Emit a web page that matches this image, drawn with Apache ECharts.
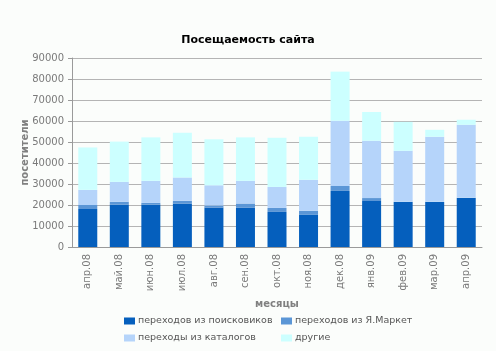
<!DOCTYPE html>
<html>
<head>
<meta charset="utf-8">
<script src="https://cdn.jsdelivr.net/npm/echarts@6/dist/echarts.min.js"></script>
<style>
  html, body { margin: 0; padding: 0; background: #fbfdfb; }
  #chart { width: 496px; height: 351px; }
</style>
</head>
<body>
<div id="chart"></div>
<script>
const months = ["апр.08", "май.08", "июн.08", "июл.08", "авг.08", "сен.08", "окт.08",
  "ноя.08", "дек.08", "янв.09", "фев.09", "мар.09", "апр.09"];

const searchVisits = [18100, 20200, 20200, 20700, 18800, 18800, 16700, 15300, 26700, 21900, 21500, 21500, 23400];
const marketVisits = [1900, 1300, 800, 1300, 1000, 1900, 1900, 1900, 2400, 1400, 0, 0, 0];
const catalogVisits = [7200, 9500, 10500, 11100, 9600, 10800, 10000, 14800, 31000, 27300, 24300, 31000, 34800];
const otherVisits = [20200, 19200, 20700, 21300, 21900, 20700, 23400, 20500, 23400, 13700, 13800, 3300, 2400];

const seriesNames = ["переходов из поисковиков", "переходов из Я.Маркет", "переходы из каталогов", "другие"];
const seriesColors = ["#055fbd", "#5b96d6", "#b5d4fa", "#ccffff"];
const seriesData = [searchVisits, marketVisits, catalogVisits, otherVisits];

const chart = echarts.init(document.getElementById("chart"));

const font = "DejaVu Sans";

// legend laid out as 2x2, one legend per item
const legendSpots = [[124, 316], [281, 316], [124, 333], [281, 333]];
const legends = seriesNames.map((name, i) => ({
  data: [name],
  left: legendSpots[i][0],
  top: legendSpots[i][1],
  padding: 0,
  itemWidth: 11,
  itemHeight: 7,
  icon: "rect",
  textStyle: { fontFamily: font, fontSize: 9.5, color: "#555555", padding: [0, 0, 0, -2] }
}));

const option = {
  backgroundColor: "#fbfdfb",
  animation: false,
  title: {
    text: "Посещаемость сайта",
    left: "center",
    top: 30,
    textStyle: { fontFamily: font, fontSize: 11, fontWeight: "bold", color: "#000000" }
  },
  legend: legends,
  grid: { left: 72, right: 14, top: 58, bottom: 104 },
  xAxis: {
    type: "category",
    data: months,
    name: "месяцы",
    nameLocation: "middle",
    nameGap: 52,
    nameMoveOverlap: false,
    nameTextStyle: { fontFamily: font, fontSize: 10, fontWeight: "bold", color: "#808080" },
    axisLine: { lineStyle: { color: "#9a9a9a" } },
    axisTick: { length: 4, lineStyle: { color: "#9a9a9a" } },
    axisLabel: { rotate: 90, margin: 7, fontFamily: font, fontSize: 10, color: "#7a7a7a" }
  },
  yAxis: {
    type: "value",
    min: 0,
    max: 90000,
    interval: 10000,
    name: "посетители",
    nameLocation: "middle",
    nameGap: 42,
    nameMoveOverlap: false,
    nameTextStyle: { fontFamily: font, fontSize: 10, fontWeight: "bold", color: "#808080" },
    axisLine: { show: true, lineStyle: { color: "#9a9a9a" } },
    axisTick: { show: true, length: 4, lineStyle: { color: "#9a9a9a" } },
    axisLabel: { margin: 8, fontFamily: font, fontSize: 10, color: "#7a7a7a", formatter: v => String(v) },
    splitLine: { lineStyle: { color: "#b4b4b4" } }
  },
  series: seriesNames.map((name, i) => ({
    name: name,
    type: "bar",
    stack: "total",
    data: seriesData[i],
    barWidth: 19,
    itemStyle: { color: seriesColors[i] }
  }))
};

chart.setOption(option);
</script>
</body>
</html>
